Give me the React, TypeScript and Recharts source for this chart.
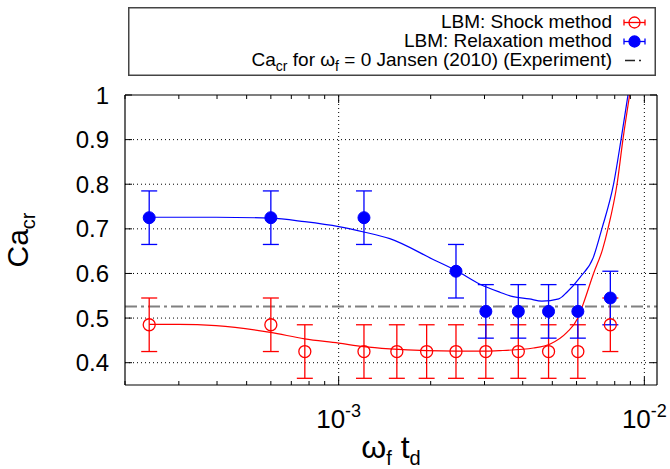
import React from 'react';
import { ComposedChart, XAxis, YAxis, Scatter, Line, ErrorBar, ReferenceLine, Legend } from 'recharts';

// ---- data ----
const shockX = [2.4e-4, 6.0e-4, 7.75e-4, 1.21e-3, 1.55e-3, 1.94e-3, 2.42e-3, 3.03e-3, 3.87e-3, 4.86e-3, 6.06e-3, 7.74e-3];
const shockY = [0.485, 0.485, 0.425, 0.425, 0.425, 0.425, 0.425, 0.425, 0.425, 0.425, 0.425, 0.485];
const shockErr = [0.06, 0.06, 0.06, 0.06, 0.06, 0.06, 0.06, 0.06, 0.06, 0.06, 0.06, 0.06];

const relaxX = [2.4e-4, 6.0e-4, 1.21e-3, 2.42e-3, 3.03e-3, 3.87e-3, 4.86e-3, 6.06e-3, 7.74e-3];
const relaxY = [0.725, 0.725, 0.725, 0.605, 0.515, 0.515, 0.515, 0.515, 0.545];
const relaxErr = [0.06, 0.06, 0.06, 0.06, 0.06, 0.06, 0.06, 0.06, 0.06];

const shockFitX = [2.4e-4, 3.0e-4, 3.97e-4, 5.98e-4, 7.74e-4, 1.0e-3, 1.208e-3, 1.47e-3, 1.94e-3, 2.42e-3, 3.03e-3, 3.37e-3, 4.34e-3, 4.92e-3, 5.58e-3, 6.06e-3, 6.32e-3, 6.82e-3, 7.3e-3, 7.6e-3, 8.14e-3, 8.51e-3, 8.95e-3];
const shockFitY = [0.486, 0.486, 0.483, 0.468, 0.4535, 0.444, 0.436, 0.431, 0.427, 0.426, 0.426, 0.427, 0.433, 0.442, 0.468, 0.5, 0.533, 0.6, 0.654, 0.7, 0.8, 0.9, 1.0];

const relaxFitX = [2.4e-4, 3.97e-4, 5.98e-4, 7.74e-4, 1.0e-3, 1.208e-3, 1.47e-3, 2.03e-3, 2.43e-3, 2.9e-3, 3.37e-3, 3.72e-3, 4.2e-3, 4.62e-3, 5.25e-3, 5.58e-3, 6.17e-3, 6.8e-3, 7.26e-3, 7.93e-3, 8.39e-3, 8.84e-3];
const relaxFitY = [0.726, 0.726, 0.724, 0.716, 0.705, 0.693, 0.678, 0.632, 0.606, 0.576, 0.558, 0.548, 0.543, 0.538, 0.543, 0.558, 0.592, 0.635, 0.7, 0.8, 0.9, 1.0];

const jansenCa = 0.526;

const yTicks = [0.4, 0.5, 0.6, 0.7, 0.8, 0.9, 1];
const yTickLabels = ['0.4', '0.5', '0.6', '0.7', '0.8', '0.9', '1'];
const yGrid = [0.4, 0.5, 0.6, 0.7, 0.8, 0.9];
const xTicks = [2e-4, 3e-4, 4e-4, 5e-4, 6e-4, 7e-4, 8e-4, 9e-4, 1e-3, 2e-3, 3e-3, 4e-3, 5e-3, 6e-3, 7e-3, 8e-3, 9e-3, 1e-2];
const xMajor = [1e-3, 1e-2];
const xMajorExp = ['-3', '-2'];

const FONT = '"Liberation Sans", Arial, Helvetica, sans-serif';

const shockData = shockX.map((x, i) => ({ x, y: shockY[i], e: shockErr[i] }));
const relaxData = relaxX.map((x, i) => ({ x, y: relaxY[i], e: relaxErr[i] }));
const shockFit = shockFitX.map((x, i) => ({ x, y: shockFitY[i] }));
const relaxFit = relaxFitX.map((x, i) => ({ x, y: relaxFitY[i] }));

const majorIndex = (v: number) => xMajor.findIndex((m) => Math.abs(m - v) / m < 1e-6);

const BottomTick = (props: any) => {
  const { x, y, payload } = props;
  const idx = majorIndex(payload.value);
  const len = idx >= 0 ? 8 : 4;
  return (
    <g>
      <line x1={x} y1={y} x2={x} y2={y - len} stroke="#000" strokeWidth={1} />
      {idx >= 0 && (
        <text x={x} y={y + 43} textAnchor="middle" fontSize={26} fill="#000" fontFamily={FONT}>
          10<tspan dy={-11} fontSize={18}>{xMajorExp[idx]}</tspan>
        </text>
      )}
    </g>
  );
};

const TopTick = (props: any) => {
  const { x, y, payload } = props;
  const idx = majorIndex(payload.value);
  const len = idx >= 0 ? 8 : 4;
  return <line x1={x} y1={y} x2={x} y2={y + len} stroke="#000" strokeWidth={1} />;
};

const LeftTick = (props: any) => {
  const { x, y, payload } = props;
  const i = yTicks.findIndex((t) => Math.abs(t - payload.value) < 1e-9);
  return (
    <g>
      <line x1={x} y1={y} x2={x + 7} y2={y} stroke="#000" strokeWidth={1} />
      <text x={x - 16} y={y + 8.5} textAnchor="end" fontSize={24} fill="#000" fontFamily={FONT}>
        {i >= 0 ? yTickLabels[i] : ''}
      </text>
    </g>
  );
};

const RightTick = (props: any) => {
  const { x, y } = props;
  return <line x1={x} y1={y} x2={x - 7} y2={y} stroke="#000" strokeWidth={1} />;
};

const YLabel = () => (
  <text x={28} y={240} transform="rotate(-90, 28, 240)" textAnchor="middle" fontSize={30} fill="#000" fontFamily={FONT}>
    Ca<tspan dy={7} fontSize={20}>cr</tspan>
  </text>
);

const XLabel = () => (
  <text x={391} y={458} textAnchor="middle" fontSize={32} fill="#000" fontFamily={FONT}>
    ω<tspan dy={7} fontSize={20}>f</tspan>
    <tspan dy={-7}> t</tspan>
    <tspan dy={7} fontSize={20}>d</tspan>
  </text>
);

const OpenCircle = (props: any) => {
  const { cx, cy } = props;
  if (cx == null || cy == null) return null;
  return <circle cx={cx} cy={cy} r={6} fill="none" stroke="#ff0000" strokeWidth={1.3} />;
};

const FilledCircle = (props: any) => {
  const { cx, cy } = props;
  if (cx == null || cy == null) return null;
  return <circle cx={cx} cy={cy} r={6} fill="#0000ff" stroke="#0000ff" strokeWidth={1} />;
};

const LegendBox = () => (
  <svg width={528} height={69} style={{ display: 'block', fontFamily: FONT }}>
    <rect x={0.75} y={0.75} width={526.5} height={67.5} fill="#fff" stroke="#444" strokeWidth={1.5} />
    <text x={484} y={21} textAnchor="end" fontSize={19} fill="#000">LBM: Shock method</text>
    <text x={484} y={40} textAnchor="end" fontSize={19} fill="#000">LBM: Relaxation method</text>
    <text x={484} y={59} textAnchor="end" fontSize={19} fill="#000">
      Ca<tspan dy={5} fontSize={14}>cr</tspan>
      <tspan dy={-5}> for ω</tspan>
      <tspan dy={5} fontSize={14}>f</tspan>
      <tspan dy={-5}> = 0 Jansen (2010) (Experiment)</tspan>
    </text>
    <g stroke="#ff0000" strokeWidth={1.3}>
      <line x1={496} y1={15.5} x2={517} y2={15.5} />
      <line x1={496} y1={12.5} x2={496} y2={18.5} />
      <line x1={517} y1={12.5} x2={517} y2={18.5} />
      <circle cx={506.5} cy={15.5} r={5.5} fill="none" />
    </g>
    <g stroke="#0000ff" strokeWidth={1.3}>
      <line x1={496} y1={34.5} x2={517} y2={34.5} />
      <line x1={496} y1={31.5} x2={496} y2={37.5} />
      <line x1={517} y1={31.5} x2={517} y2={37.5} />
      <circle cx={506.5} cy={34.5} r={5.5} fill="#0000ff" />
    </g>
    <line x1={497} y1={53.5} x2={517} y2={53.5} stroke="#222" strokeWidth={1.3} strokeDasharray="10 4 2 4" />
  </svg>
);

export default function App() {
  return (
    <div style={{ position: 'absolute', left: 0, top: 0, width: 670, height: 469, fontFamily: FONT, background: '#fff' }}>
      <ComposedChart width={670} height={469} margin={{ top: 0, right: 0, bottom: 0, left: 0 }}>
        <XAxis
          xAxisId={0}
          dataKey="x"
          type="number"
          scale="log"
          domain={[2e-4, 1.1e-2]}
          allowDataOverflow
          ticks={xTicks}
          interval={0}
          tickSize={0}
          tickMargin={0}
          tick={<BottomTick />}
          height={84}
          axisLine={{ stroke: '#000', strokeWidth: 1.2 }}
          tickLine={false}
          orientation="bottom"
        />
        <XAxis
          xAxisId="top"
          dataKey="x"
          type="number"
          scale="log"
          domain={[2e-4, 1.1e-2]}
          allowDataOverflow
          ticks={xTicks}
          interval={0}
          tickSize={0}
          tickMargin={0}
          tick={<TopTick />}
          height={95}
          axisLine={{ stroke: '#000', strokeWidth: 1.2 }}
          tickLine={false}
          orientation="top"
        />
        <YAxis
          yAxisId={0}
          dataKey="y"
          type="number"
          domain={[0.35, 1]}
          allowDataOverflow
          ticks={yTicks}
          interval={0}
          tickSize={0}
          tickMargin={0}
          tick={<LeftTick />}
          width={125}
          axisLine={{ stroke: '#000', strokeWidth: 1.2 }}
          tickLine={false}
          label={<YLabel />}
        />
        <YAxis
          yAxisId="right"
          orientation="right"
          type="number"
          domain={[0.35, 1]}
          allowDataOverflow
          ticks={yTicks}
          interval={0}
          tickSize={0}
          tickMargin={0}
          tick={<RightTick />}
          width={13}
          axisLine={{ stroke: '#000', strokeWidth: 1.2 }}
          tickLine={false}
        />
        {yGrid.map((v) => (
          <ReferenceLine key={'gy' + v} y={v} stroke="#000" strokeWidth={1} strokeDasharray="1 3" />
        ))}
        {xMajor.map((v) => (
          <ReferenceLine key={'gx' + v} x={v} stroke="#000" strokeWidth={1} strokeDasharray="1 3" />
        ))}
        <ReferenceLine y={jansenCa} stroke="#808080" strokeWidth={2} strokeDasharray="12 4 3 4" />
        <Scatter data={shockData} shape={<OpenCircle />} isAnimationActive={false}>
          <ErrorBar dataKey="e" direction="y" width={8} stroke="#ff0000" strokeWidth={1.3} />
        </Scatter>
        <Scatter data={relaxData} shape={<FilledCircle />} isAnimationActive={false}>
          <ErrorBar dataKey="e" direction="y" width={8} stroke="#0000ff" strokeWidth={1.3} />
        </Scatter>
        <Line data={shockFit} dataKey="y" type="monotone" stroke="#ff0000" strokeWidth={1.2} dot={false} isAnimationActive={false} />
        <Line data={relaxFit} dataKey="y" type="monotone" stroke="#0000ff" strokeWidth={1.2} dot={false} isAnimationActive={false} />
        <Legend
          layout="horizontal"
          verticalAlign="middle"
          align="center"
          content={() => <LegendBox />}
          wrapperStyle={{ position: 'absolute', top: 7, left: 128, width: 528, height: 69 }}
        />
      </ComposedChart>
      <svg width={670} height={469} style={{ position: 'absolute', left: 0, top: 0, pointerEvents: 'none' }}>
        <XLabel />
      </svg>
    </div>
  );
}
